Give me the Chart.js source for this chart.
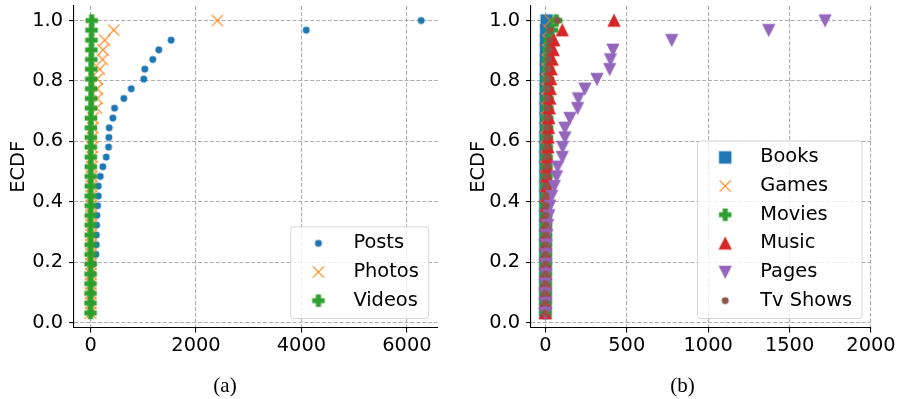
<!DOCTYPE html>
<html>
<head>
<meta charset="utf-8">
<script src="https://cdn.jsdelivr.net/npm/chart.js@4.4.0/dist/chart.umd.min.js"></script>
<style>
html,body{margin:0;padding:0;background:#fff;}
#wrap{position:relative;width:898px;height:399px;overflow:hidden;background:#fff;}
.pane{position:absolute;top:0;width:449px;height:399px;}
.cap{position:absolute;top:373px;height:24px;line-height:24px;font-family:"Liberation Serif","DejaVu Serif",serif;font-size:21px;color:#000;transform:translateX(-50%);white-space:nowrap;}
</style>
</head>
<body>
<div id="wrap">
  <div class="pane" style="left:0"><canvas id="c1" width="449" height="399"></canvas></div>
  <div class="pane" style="left:449px"><canvas id="c2" width="449" height="399"></canvas></div>
  <div class="cap" id="capA" style="left:225px"></div>
  <div class="cap" id="capB" style="left:682.5px"></div>
</div>
<script>
// ---------------- DATA ----------------
const ecdfLevels = [0.032, 0.065, 0.097, 0.129, 0.161, 0.194, 0.226, 0.258, 0.290, 0.323,
                    0.355, 0.387, 0.419, 0.452, 0.484, 0.516, 0.548, 0.581, 0.613, 0.645,
                    0.677, 0.710, 0.742, 0.774, 0.806, 0.839, 0.871, 0.903, 0.935, 0.968, 1.0];

const panelALabels = ['Posts', 'Photos', 'Videos'];
const posts  = [5, 10, 18, 25, 35, 50, 101, 108, 110, 114, 120, 133, 146, 146, 184, 233, 297, 341, 347, 354,
                423, 455, 631, 771, 1010, 1028, 1180, 1294, 1528, 4090, 6270];
const photos = [2, 3, 4, 5, 6, 7, 8, 9, 10, 11, 12, 13, 14, 16, 18, 20, 28, 32, 36, 40,
                45, 114, 127, 127, 127, 171, 227, 237, 269, 441, 2405];
const videos = [0, 0, 0, 0, 1, 1, 1, 2, 2, 2, 3, 3, 3, 4, 4, 5, 5, 6, 6, 7,
                8, 9, 10, 11, 12, 13, 14, 15, 17, 19, 22];

const panelBLabels = ['Books', 'Games', 'Movies', 'Music', 'Pages', 'Tv Shows'];
const books   = [0, 0, 0, 0, 0, 0, 0, 0, 0, 0, 0, 0, 1, 1, 1, 1, 1, 1, 1, 2,
                 2, 2, 2, 2, 3, 3, 3, 4, 4, 5, 8];
const games   = [0, 0, 0, 1, 1, 1, 1, 1, 2, 2, 2, 2, 3, 3, 3, 4, 4, 5, 5, 6,
                 6, 7, 8, 9, 10, 11, 12, 14, 16, 20, 30];
const movies  = [1, 1, 2, 2, 2, 3, 3, 3, 4, 4, 5, 5, 6, 6, 7, 7, 8, 9, 10, 11,
                 12, 13, 14, 15, 16, 17, 18, 20, 25, 40, 67];
const music   = [0, 0, 1, 1, 2, 2, 3, 3, 4, 5, 6, 7, 8, 9, 10, 12, 14, 16, 18, 20,
                 22, 25, 28, 30, 33, 36, 42, 48, 52, 104, 422];
const pages   = [0, 0, 1, 1, 2, 3, 4, 6, 8, 14, 22, 28, 39, 55, 69, 75, 104, 106, 120, 120,
                 151, 198, 203, 243, 317, 395, 400, 415, 776, 1372, 1718];
const tvShows = [0, 0, 1, 1, 1, 2, 2, 2, 3, 3, 3, 4, 4, 5, 5, 6, 6, 7, 8, 9,
                 10, 11, 12, 13, 15, 17, 19, 22, 26, 31, 75];

const yTickValues = [0, 0.2, 0.4, 0.6, 0.8, 1.0];
const yTickLabels = ['0.0', '0.2', '0.4', '0.6', '0.8', '1.0'];
const xTickValuesA = [0, 2000, 4000, 6000];
const xTickLabelsA = ['0', '2000', '4000', '6000'];
const xTickValuesB = [0, 500, 1000, 1500, 2000];
const xTickLabelsB = ['0', '500', '1000', '1500', '2000'];
const yAxisTitle = 'ECDF';
const captionA = '(a)';
const captionB = '(b)';

// ---------------- STYLE ----------------
const C = {blue:'#1f77b4', orange:'#ff7f0e', green:'#2ca02c', red:'#d62728', purple:'#9467bd', brown:'#8c564b'};
const FONT = '"DejaVu Sans"';
const FS = 19.4;

function makeMarker(kind, color) {
  const size = 11.1, lw = 1.39;
  const S = 16;
  const c = document.createElement('canvas');
  c.width = S; c.height = S;
  const g = c.getContext('2d');
  const cx = S / 2, cy = S / 2, h = size / 2;
  g.fillStyle = color; g.strokeStyle = color; g.lineWidth = lw; g.lineJoin = 'miter';
  g.beginPath();
  if (kind === 'point') {
    g.arc(cx, cy, size / 4, 0, Math.PI * 2);
    g.fill(); g.stroke();
  } else if (kind === 'square') {
    g.rect(cx - h, cy - h, size, size);
    g.fill(); g.stroke();
  } else if (kind === 'x') {
    g.lineWidth = 1.2;
    g.moveTo(cx - h, cy - h); g.lineTo(cx + h, cy + h);
    g.moveTo(cx + h, cy - h); g.lineTo(cx - h, cy + h);
    g.stroke();
  } else if (kind === 'plus') {
    const u = size / 6;
    const pts = [[-1,-3],[1,-3],[1,-1],[3,-1],[3,1],[1,1],[1,3],[-1,3],[-1,1],[-3,1],[-3,-1],[-1,-1]];
    pts.forEach((p, i) => { const X = cx + p[0]*u, Y = cy + p[1]*u; if (i) g.lineTo(X, Y); else g.moveTo(X, Y); });
    g.closePath(); g.fill(); g.stroke();
  } else if (kind === 'triUp') {
    g.moveTo(cx, cy - h); g.lineTo(cx + h, cy + h); g.lineTo(cx - h, cy + h);
    g.closePath(); g.fill(); g.stroke();
  } else if (kind === 'triDown') {
    g.moveTo(cx, cy + h); g.lineTo(cx + h, cy - h); g.lineTo(cx - h, cy - h);
    g.closePath(); g.fill(); g.stroke();
  }
  return c;
}

function series(label, values, kind, color, order) {
  return {
    label: label,
    data: values.map((v, i) => ({x: v, y: ecdfLevels[i]})),
    pointStyle: makeMarker(kind, color),
    pointRadius: 5,
    pointHoverRadius: 5,
    backgroundColor: color,
    borderColor: color,
    showLine: false,
    order: order
  };
}

const ecdfLegend = {
  id: 'ecdfLegend',
  afterDatasetsDraw(chart, args, o) {
    const ctx = chart.ctx, ca = chart.chartArea;
    const items = chart.data.datasets.map(d => ({label: d.label, img: d.pointStyle}));
    ctx.save();
    ctx.font = FS + 'px ' + FONT;
    const maxW = Math.max(...items.map(it => ctx.measureText(it.label).width));
    const w = o.textOffset + maxW + o.rightPad;
    const h = items.length * o.rowH + o.extraH;
    const right = ca.right - o.axesPad, bottom = ca.bottom - o.axesPad;
    const left = right - w, top = bottom - h;
    ctx.beginPath();
    if (ctx.roundRect) ctx.roundRect(left, top, w, h, 3); else ctx.rect(left, top, w, h);
    ctx.fillStyle = 'rgba(255,255,255,0.8)';
    ctx.fill();
    ctx.lineWidth = 1;
    ctx.strokeStyle = 'rgba(204,204,204,0.8)';
    ctx.stroke();
    ctx.fillStyle = '#000';
    ctx.textAlign = 'left';
    ctx.textBaseline = 'middle';
    items.forEach((it, i) => {
      const y = top + o.firstRow + i * o.rowH;
      const mx = left + o.markerOffset;
      ctx.drawImage(it.img, mx - it.img.width / 2, y - it.img.height / 2);
      ctx.fillText(it.label, left + o.textOffset, y);
    });
    ctx.restore();
  }
};

const legendOpts = {rowH: 28.65, firstRow: 16.5, extraH: 5.7, textOffset: 62.7, markerOffset: 27.7, rightPad: 9.9, axesPad: 9.0};

function makeOptions(xmin, xmax, xVals, xLabels, yWidth, rightPad, titlePadTop) {
  const gridCommon = {
    color: '#b0b0b0', lineWidth: 1.1, drawTicks: true, tickLength: 4.9,
    tickColor: '#000', tickWidth: 1.1, tickBorderDash: []
  };
  const borderCommon = {display: true, color: '#000', width: 1.1, dash: [4.1, 1.8]};
  return {
    responsive: false,
    animation: false,
    devicePixelRatio: 1,
    layout: {padding: {left: 0, right: rightPad, top: 6, bottom: 0}},
    plugins: {legend: {display: false}, tooltip: {enabled: false}, ecdfLegend: legendOpts},
    scales: {
      x: {
        type: 'linear', min: xmin, max: xmax,
        grid: gridCommon, border: borderCommon,
        afterBuildTicks: s => { s.ticks = xVals.map(v => ({value: v})); },
        ticks: {autoSkip: false, maxRotation: 0, padding: 1.5, color: '#000',
                font: {family: FONT, size: FS}, callback: (v, i) => xLabels[i]},
        afterFit: s => { s.height = 71.5; s.paddingLeft = 0; s.paddingRight = 0; }
      },
      y: {
        type: 'linear', min: -0.016, max: 1.048,
        grid: gridCommon, border: borderCommon,
        afterBuildTicks: s => { s.ticks = yTickValues.map(v => ({value: v})); },
        ticks: {autoSkip: false, padding: 6, color: '#000',
                font: {family: FONT, size: FS}, callback: (v, i) => yTickLabels[i]},
        title: {display: true, text: yAxisTitle, color: '#000', font: {family: FONT, size: FS},
                padding: {top: titlePadTop, bottom: 0}},
        afterFit: s => { s.width = yWidth; s.paddingTop = 0; s.paddingBottom = 0; }
      }
    }
  };
}

new Chart(document.getElementById('c1'), {
  type: 'scatter',
  data: {
    datasets: [
      series(panelALabels[0], posts,  'point', C.blue,   3),
      series(panelALabels[1], photos, 'x',     C.orange, 2),
      series(panelALabels[2], videos, 'plus',  C.green,  1)
    ]
  },
  options: makeOptions(-314, 6584, xTickValuesA, xTickLabelsA, 74, 11.3, 7),
  plugins: [ecdfLegend]
});

new Chart(document.getElementById('c2'), {
  type: 'scatter',
  data: {
    datasets: [
      series(panelBLabels[0], books,   'square',  C.blue,   6),
      series(panelBLabels[1], games,   'x',       C.orange, 5),
      series(panelBLabels[2], movies,  'plus',    C.green,  4),
      series(panelBLabels[3], music,   'triUp',   C.red,    3),
      series(panelBLabels[4], pages,   'triDown', C.purple, 2),
      series(panelBLabels[5], tvShows, 'point',   C.brown,  1)
    ]
  },
  options: makeOptions(-88, 2000, xTickValuesB, xTickLabelsB, 82, 27, 18),
  plugins: [ecdfLegend]
});

document.getElementById('capA').textContent = captionA;
document.getElementById('capB').textContent = captionB;
</script>
</body>
</html>
